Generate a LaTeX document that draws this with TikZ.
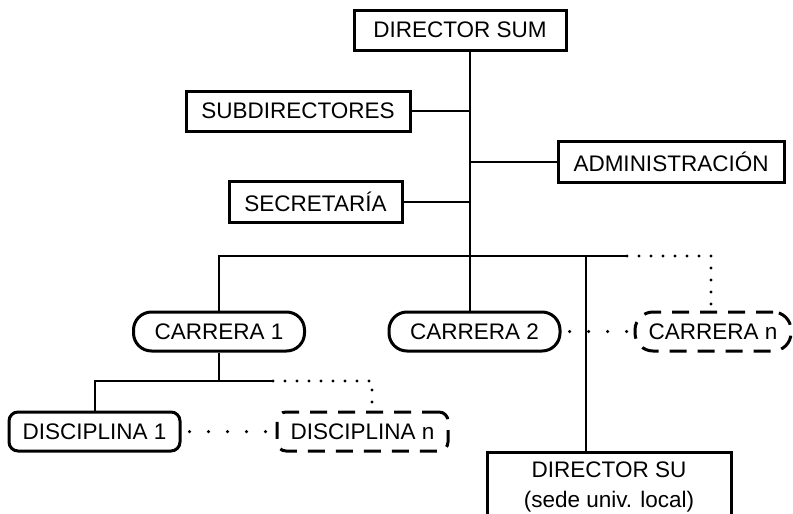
\documentclass[tikz,border=0pt]{standalone}
\usepackage{fontspec}
\setmainfont{Liberation Sans}
\begin{document}
\begin{tikzpicture}[x=1pt,y=-1pt,
  every node/.style={font=\fontsize{22.5}{30}\selectfont, inner sep=0pt, align=center},
  sqbox/.style={draw, line width=3pt, rectangle},
  pill/.style={draw, line width=3pt, rounded corners=18pt},
  rbox/.style={draw, line width=3pt, rounded corners=9pt},
  dpill/.style={draw, line width=3pt, rounded corners=18pt, dash pattern=on 17pt off 11pt},
  drbox/.style={draw, line width=3pt, rounded corners=9pt, dash pattern=on 17pt off 11pt},
  conn/.style={line width=2pt},
  dots/.style={line width=3.2pt, line cap=round, dash pattern=on 0pt off 12pt},
  wdots/.style={line width=3.5pt, line cap=round, dash pattern=on 0pt off 19pt, dash phase=-8pt}
]
\useasboundingbox (0,0) rectangle (793,514);

\node[sqbox, minimum width=212pt, minimum height=40pt] (dsum) at (460,30) {DIRECTOR SUM};
\node[sqbox, minimum width=224pt, minimum height=40pt] (sub) at (298,111) {SUBDIRECTORES};
\node[sqbox, minimum width=226pt, minimum height=41pt] (adm) at (671,161.5) {ADMINISTRACIÓN};
\node[sqbox, minimum width=173pt, minimum height=41pt] (sec) at (315.5,201.5) {SECRETARÍA};

\node[pill, minimum width=171pt, minimum height=39pt] (car1) at (219,331.5) {CARRERA 1};
\node[pill, minimum width=171pt, minimum height=39pt] (car2) at (474.5,331.5) {CARRERA 2};
\node[dpill, minimum width=156pt, minimum height=39pt] (carn) at (713,331.5) {CARRERA n};

\node[rbox, minimum width=171pt, minimum height=39pt] (dis1) at (94.5,431.5) {DISCIPLINA 1};
\node[drbox, minimum width=171pt, minimum height=39pt] (disn) at (362.5,431.5) {DISCIPLINA n};

\node[sqbox, minimum width=244pt, minimum height=70pt] (dsu) at (609,487) {DIRECTOR SU\\(sede univ. local)};

% trunk and bus
\coordinate (t0) at (470,50);
\coordinate (tb) at (470,256);
\coordinate (busL) at (car1.north |- tb);
\coordinate (busS) at (627,256);
\coordinate (busD) at (711,256);
\coordinate (dsuX) at (586,256);

\draw[conn] (t0) -- (car2.north -| t0);
\draw[conn] (sub.east) -- (sub.east -| tb);
\draw[conn] (adm.west) -- (adm.west -| tb);
\draw[conn] (sec.east) -- (sec.east -| tb);
\draw[conn] (car1.north) -- (busL) -- (busS);
\draw[dots] (busS) -- (busD) -- (carn.north -| busD);
\draw[conn] (dsuX) -- (dsu.north -| dsuX);
\draw[wdots] (car2.east) -- (carn.west);

% disciplinas
\coordinate (c1b) at (219,381);
\coordinate (c1L) at (dis1.north |- c1b);
\coordinate (c1S) at (273,381);
\coordinate (c1D) at (372,381);
\draw[conn] (car1.south) -- (c1b);
\draw[conn] (dis1.north) -- (c1L) -- (c1S);
\draw[dots] (c1S) -- (c1D) -- (disn.north -| c1D);
\draw[wdots] (dis1.east) -- (disn.west);
\end{tikzpicture}
\end{document}
